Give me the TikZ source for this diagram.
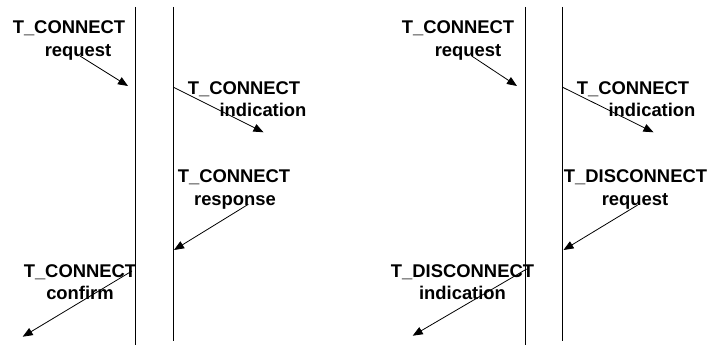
\documentclass[tikz,border=0pt]{standalone}
\usepackage{fontspec}
\setmainfont{Liberation Sans}
\usetikzlibrary{arrows.meta}
\begin{document}
\begin{tikzpicture}[x=1pt,y=-1pt,
  lifeline/.style={draw=black,line width=0.9pt},
  msg/.style={draw=black,line width=0.8pt,-{Triangle[length=10pt,width=8pt]}},
  lbl/.style={anchor=base,inner sep=0pt,font=\fontsize{18.4}{22}\selectfont\bfseries}]
\useasboundingbox (0,0) rectangle (710,345);
\fill[white] (0,0) rectangle (710,345);

% ---- connection establishment ----
\coordinate (a1t) at (135,7);   \coordinate (a1b) at (135,345);
\coordinate (a2t) at (173.5,7); \coordinate (a2b) at (173.5,341);
\draw[lifeline] (a1t) -- (a1b);
\draw[lifeline] (a2t) -- (a2b);

\node[lbl] (creq1) at (69,33.3) {T\_CONNECT};
\node[lbl] (creq2) at (78,57) {request};
\node[lbl] (cind1) at (244,94.5) {T\_CONNECT};
\node[lbl] (cind2) at (263,117) {indication};
\node[lbl] (cres1) at (234,182.3) {T\_CONNECT};
\node[lbl] (cres2) at (235,205) {response};
\node[lbl] (ccon1) at (80,277.7) {T\_CONNECT};
\node[lbl] (ccon2) at (80,299) {confirm};

\coordinate (m1s) at (80,56);     \coordinate (m1e) at (128,86);
\coordinate (m2s) at (173.5,87.3); \coordinate (m2e) at (263.5,132.3);
\coordinate (m3s) at (248.3,204.3); \coordinate (m3e) at (174,250);
\coordinate (m4s) at (132,271);   \coordinate (m4e) at (22.7,336.7);
\draw[msg] (m1s) -- (m1e);
\draw[msg] (m2s) -- (m2e);
\draw[msg] (m3s) -- (m3e);
\draw[msg] (m4s) -- (m4e);

% ---- connection refused ----
\coordinate (b1t) at (525,7);   \coordinate (b1b) at (525,345);
\coordinate (b2t) at (562.7,7); \coordinate (b2b) at (562.7,341);
\draw[lifeline] (b1t) -- (b1b);
\draw[lifeline] (b2t) -- (b2b);

\node[lbl] (dreq1) at (458,33.3) {T\_CONNECT};
\node[lbl] (dreq2) at (468,57) {request};
\node[lbl] (dind1) at (633,94.5) {T\_CONNECT};
\node[lbl] (dind2) at (652,117) {indication};
\node[lbl] (ddr1) at (635.5,182.3) {T\_DISCONNECT};
\node[lbl] (ddr2) at (635,205) {request};
\node[lbl] (ddi1) at (462.5,277.7) {T\_DISCONNECT};
\node[lbl] (ddi2) at (462.5,299) {indication};

\coordinate (n1s) at (471.7,56);   \coordinate (n1e) at (517,86);
\coordinate (n2s) at (562.7,87.3); \coordinate (n2e) at (653.5,132.3);
\coordinate (n3s) at (637.7,205);  \coordinate (n3e) at (563.5,250);
\coordinate (n4s) at (526.7,269);  \coordinate (n4e) at (412.7,335.7);
\draw[msg] (n1s) -- (n1e);
\draw[msg] (n2s) -- (n2e);
\draw[msg] (n3s) -- (n3e);
\draw[msg] (n4s) -- (n4e);
\end{tikzpicture}
\end{document}
